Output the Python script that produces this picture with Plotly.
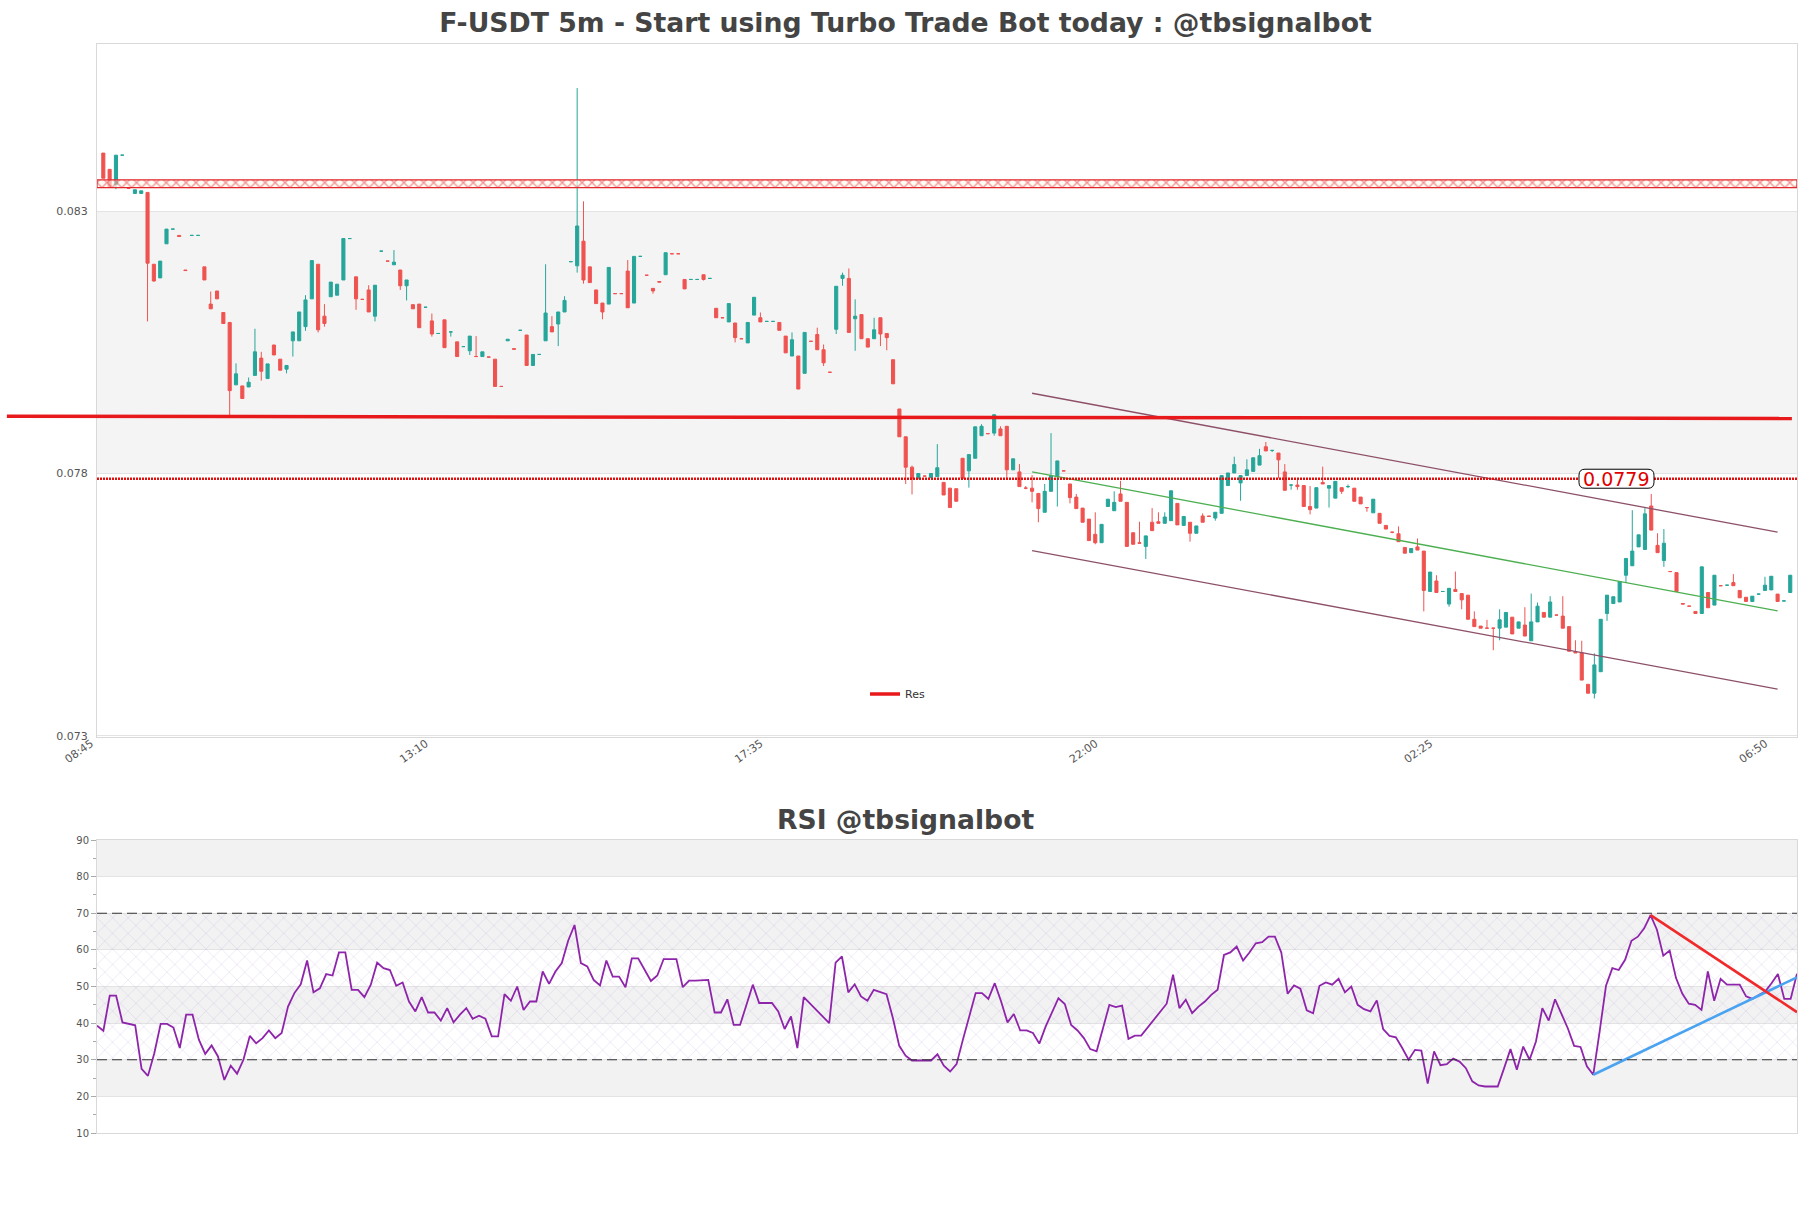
import plotly.graph_objects as go

# ---------------- data ----------------
open_ = [
    0.08411, 0.08380, 0.08351, 0.08407, 0.08344, 0.08334, 0.08334, 0.08336, 0.08199, 0.08173,
    0.08238, 0.08266, 0.08254, 0.08188, 0.08254, 0.08254, 0.08194, 0.08123, 0.08148, 0.08107,
    0.08088, 0.07969, 0.07967, 0.07965, 0.07987, 0.08020, 0.07981, 0.08045, 0.08018, 0.07999,
    0.08053, 0.08053, 0.08080, 0.08133, 0.08199, 0.08100, 0.08137, 0.08140, 0.08169, 0.08248,
    0.08175, 0.08132, 0.08150, 0.08100, 0.08224, 0.08205, 0.08198, 0.08188, 0.08158, 0.08122,
    0.08123, 0.08117, 0.08091, 0.08067, 0.08093, 0.08070, 0.08051, 0.08042, 0.08034, 0.08023,
    0.08023, 0.08022, 0.08018, 0.07966, 0.08053, 0.08038, 0.08073, 0.08064, 0.08006, 0.08027,
    0.08053, 0.08080, 0.08085, 0.08108, 0.08204, 0.08196, 0.08243, 0.08194, 0.08150, 0.08125,
    0.08123, 0.08143, 0.08143, 0.08186, 0.08125, 0.08214, 0.08178, 0.08153, 0.08166, 0.08179,
    0.08219, 0.08219, 0.08170, 0.08170, 0.08170, 0.08179, 0.08172, 0.08115, 0.08097, 0.08089,
    0.08087, 0.08057, 0.08049, 0.08102, 0.08097, 0.08090, 0.08090, 0.08088, 0.08062, 0.08024,
    0.08024, 0.07991, 0.08052, 0.08065, 0.08036, 0.07993, 0.08075, 0.08172, 0.08172, 0.08095,
    0.08103, 0.08057, 0.08057, 0.08097, 0.08067, 0.08017, 0.07923, 0.07870, 0.07812, 0.07790,
    0.07795, 0.07792, 0.07794, 0.07783, 0.07772, 0.07771, 0.07829, 0.07805, 0.07829, 0.07872,
    0.07876, 0.07877, 0.07885, 0.07890, 0.07807, 0.07803, 0.07772, 0.07772, 0.07762, 0.07726,
    0.07766, 0.07794, 0.07805, 0.07780, 0.07755, 0.07734, 0.07713, 0.07684, 0.07668, 0.07737,
    0.07729, 0.07761, 0.07745, 0.07687, 0.07668, 0.07661, 0.07707, 0.07708, 0.07705, 0.07710,
    0.07743, 0.07701, 0.07707, 0.07686, 0.07719, 0.07719, 0.07715, 0.07724, 0.07777, 0.07801,
    0.07782, 0.07796, 0.07804, 0.07816, 0.07851, 0.07844, 0.07839, 0.07803, 0.07778, 0.07778,
    0.07777, 0.07737, 0.07734, 0.07783, 0.07772, 0.07753, 0.07773, 0.07775, 0.07772, 0.07755,
    0.07735, 0.07725, 0.07724, 0.07701, 0.07688, 0.07685, 0.07659, 0.07649, 0.07660, 0.07652,
    0.07575, 0.07595, 0.07575, 0.07551, 0.07579, 0.07571, 0.07568, 0.07522, 0.07509, 0.07505,
    0.07505, 0.07505, 0.07507, 0.07526, 0.07505, 0.07511, 0.07481, 0.07517, 0.07535, 0.07526,
    0.07530, 0.07528, 0.07508, 0.07460, 0.07458, 0.07398, 0.07381, 0.07422, 0.07533, 0.07552,
    0.07555, 0.07606, 0.07624, 0.07660, 0.07655, 0.07738, 0.07663, 0.07634, 0.07613, 0.07611,
    0.07552, 0.07547, 0.07537, 0.07533, 0.07573, 0.07549, 0.07586, 0.07587, 0.07592, 0.07577,
    0.07564, 0.07556, 0.07570, 0.07577, 0.07578, 0.07570, 0.07557, 0.07573,
]
high = [
    0.08411, 0.08380, 0.08407, 0.08407, 0.08344, 0.08341, 0.08339, 0.08336, 0.08199, 0.08205,
    0.08266, 0.08266, 0.08254, 0.08188, 0.08254, 0.08254, 0.08194, 0.08147, 0.08148, 0.08107,
    0.08088, 0.08010, 0.07967, 0.07983, 0.08076, 0.08032, 0.08009, 0.08045, 0.08018, 0.08006,
    0.08070, 0.08108, 0.08140, 0.08206, 0.08199, 0.08123, 0.08165, 0.08161, 0.08248, 0.08248,
    0.08175, 0.08132, 0.08159, 0.08159, 0.08224, 0.08205, 0.08226, 0.08188, 0.08169, 0.08122,
    0.08123, 0.08117, 0.08105, 0.08067, 0.08093, 0.08070, 0.08051, 0.08042, 0.08062, 0.08062,
    0.08032, 0.08022, 0.08018, 0.07966, 0.08056, 0.08038, 0.08073, 0.08064, 0.08027, 0.08027,
    0.08199, 0.08100, 0.08108, 0.08138, 0.08204, 0.08535, 0.08319, 0.08194, 0.08150, 0.08125,
    0.08193, 0.08143, 0.08143, 0.08207, 0.08214, 0.08214, 0.08178, 0.08153, 0.08166, 0.08221,
    0.08219, 0.08219, 0.08170, 0.08170, 0.08170, 0.08179, 0.08172, 0.08115, 0.08097, 0.08124,
    0.08087, 0.08057, 0.08088, 0.08136, 0.08107, 0.08090, 0.08090, 0.08088, 0.08062, 0.08069,
    0.08024, 0.08069, 0.08052, 0.08078, 0.08046, 0.07993, 0.08157, 0.08183, 0.08191, 0.08132,
    0.08103, 0.08057, 0.08097, 0.08097, 0.08067, 0.08017, 0.07923, 0.07870, 0.07815, 0.07800,
    0.07795, 0.07800, 0.07856, 0.07783, 0.07772, 0.07771, 0.07829, 0.07836, 0.07889, 0.07894,
    0.07876, 0.07912, 0.07890, 0.07890, 0.07828, 0.07818, 0.07776, 0.07797, 0.07762, 0.07780,
    0.07877, 0.07824, 0.07805, 0.07780, 0.07761, 0.07734, 0.07713, 0.07726, 0.07703, 0.07751,
    0.07766, 0.07786, 0.07745, 0.07687, 0.07708, 0.07681, 0.07734, 0.07726, 0.07726, 0.07767,
    0.07743, 0.07718, 0.07707, 0.07700, 0.07724, 0.07719, 0.07726, 0.07796, 0.07801, 0.07832,
    0.07796, 0.07827, 0.07830, 0.07847, 0.07860, 0.07844, 0.07839, 0.07818, 0.07778, 0.07788,
    0.07777, 0.07776, 0.07773, 0.07813, 0.07777, 0.07785, 0.07773, 0.07779, 0.07772, 0.07755,
    0.07735, 0.07751, 0.07724, 0.07701, 0.07688, 0.07699, 0.07659, 0.07657, 0.07676, 0.07652,
    0.07612, 0.07606, 0.07575, 0.07581, 0.07613, 0.07571, 0.07568, 0.07537, 0.07509, 0.07521,
    0.07505, 0.07541, 0.07535, 0.07526, 0.07517, 0.07545, 0.07571, 0.07554, 0.07535, 0.07566,
    0.07530, 0.07566, 0.07508, 0.07482, 0.07481, 0.07398, 0.07457, 0.07522, 0.07568, 0.07565,
    0.07594, 0.07638, 0.07730, 0.07683, 0.07734, 0.07761, 0.07686, 0.07694, 0.07613, 0.07611,
    0.07552, 0.07547, 0.07537, 0.07622, 0.07573, 0.07606, 0.07586, 0.07587, 0.07608, 0.07577,
    0.07564, 0.07566, 0.07570, 0.07603, 0.07604, 0.07570, 0.07557, 0.07606,
]
low = [
    0.08363, 0.08347, 0.08342, 0.08407, 0.08344, 0.08334, 0.08334, 0.08090, 0.08166, 0.08173,
    0.08238, 0.08266, 0.08252, 0.08187, 0.08254, 0.08254, 0.08169, 0.08114, 0.08133, 0.08086,
    0.07908, 0.07969, 0.07943, 0.07965, 0.07987, 0.07977, 0.07981, 0.08026, 0.07997, 0.07991,
    0.08023, 0.08053, 0.08072, 0.08133, 0.08069, 0.08080, 0.08137, 0.08140, 0.08169, 0.08248,
    0.08112, 0.08132, 0.08108, 0.08090, 0.08224, 0.08205, 0.08198, 0.08150, 0.08130, 0.08114,
    0.08078, 0.08117, 0.08061, 0.08067, 0.08040, 0.08061, 0.08023, 0.08042, 0.08026, 0.08023,
    0.08023, 0.08022, 0.07966, 0.07966, 0.08053, 0.08037, 0.08073, 0.08006, 0.08006, 0.08027,
    0.08053, 0.08070, 0.08043, 0.08108, 0.08204, 0.08183, 0.08162, 0.08164, 0.08124, 0.08094,
    0.08123, 0.08143, 0.08143, 0.08116, 0.08125, 0.08214, 0.08178, 0.08143, 0.08165, 0.08179,
    0.08219, 0.08219, 0.08152, 0.08170, 0.08170, 0.08168, 0.08172, 0.08097, 0.08097, 0.08089,
    0.08050, 0.08057, 0.08049, 0.08102, 0.08089, 0.08090, 0.08090, 0.08073, 0.08030, 0.08024,
    0.07961, 0.07991, 0.08052, 0.08036, 0.08005, 0.07993, 0.08066, 0.08158, 0.08069, 0.08034,
    0.08057, 0.08041, 0.08057, 0.08043, 0.08035, 0.07971, 0.07870, 0.07780, 0.07760, 0.07790,
    0.07795, 0.07792, 0.07794, 0.07759, 0.07735, 0.07747, 0.07791, 0.07773, 0.07829, 0.07872,
    0.07876, 0.07872, 0.07872, 0.07788, 0.07807, 0.07775, 0.07770, 0.07745, 0.07707, 0.07726,
    0.07766, 0.07737, 0.07805, 0.07743, 0.07733, 0.07707, 0.07672, 0.07665, 0.07668, 0.07737,
    0.07729, 0.07747, 0.07661, 0.07665, 0.07667, 0.07637, 0.07691, 0.07705, 0.07705, 0.07710,
    0.07702, 0.07701, 0.07670, 0.07686, 0.07707, 0.07718, 0.07710, 0.07724, 0.07777, 0.07801,
    0.07748, 0.07796, 0.07804, 0.07816, 0.07843, 0.07841, 0.07791, 0.07768, 0.07769, 0.07769,
    0.07737, 0.07722, 0.07734, 0.07780, 0.07735, 0.07753, 0.07761, 0.07772, 0.07747, 0.07742,
    0.07727, 0.07725, 0.07705, 0.07694, 0.07686, 0.07670, 0.07648, 0.07649, 0.07654, 0.07537,
    0.07575, 0.07573, 0.07575, 0.07546, 0.07575, 0.07541, 0.07522, 0.07508, 0.07505, 0.07505,
    0.07463, 0.07482, 0.07507, 0.07494, 0.07505, 0.07490, 0.07481, 0.07517, 0.07526, 0.07526,
    0.07530, 0.07505, 0.07461, 0.07458, 0.07406, 0.07381, 0.07371, 0.07422, 0.07519, 0.07552,
    0.07555, 0.07592, 0.07624, 0.07660, 0.07655, 0.07692, 0.07649, 0.07622, 0.07613, 0.07575,
    0.07551, 0.07547, 0.07533, 0.07533, 0.07544, 0.07549, 0.07586, 0.07587, 0.07586, 0.07563,
    0.07556, 0.07556, 0.07570, 0.07577, 0.07578, 0.07556, 0.07557, 0.07573,
]
close = [
    0.08363, 0.08347, 0.08407, 0.08407, 0.08344, 0.08341, 0.08339, 0.08201, 0.08167, 0.08205,
    0.08266, 0.08266, 0.08252, 0.08187, 0.08254, 0.08254, 0.08169, 0.08114, 0.08133, 0.08086,
    0.07958, 0.07990, 0.07943, 0.07974, 0.08032, 0.07995, 0.08009, 0.08026, 0.07997, 0.08006,
    0.08070, 0.08108, 0.08131, 0.08206, 0.08074, 0.08086, 0.08165, 0.08161, 0.08248, 0.08248,
    0.08133, 0.08132, 0.08108, 0.08159, 0.08224, 0.08205, 0.08203, 0.08158, 0.08169, 0.08114,
    0.08078, 0.08117, 0.08066, 0.08067, 0.08040, 0.08070, 0.08023, 0.08042, 0.08062, 0.08023,
    0.08032, 0.08022, 0.07966, 0.07966, 0.08056, 0.08037, 0.08073, 0.08006, 0.08027, 0.08027,
    0.08106, 0.08070, 0.08108, 0.08130, 0.08204, 0.08272, 0.08169, 0.08164, 0.08124, 0.08108,
    0.08193, 0.08143, 0.08143, 0.08116, 0.08214, 0.08214, 0.08178, 0.08148, 0.08165, 0.08221,
    0.08219, 0.08219, 0.08152, 0.08170, 0.08170, 0.08170, 0.08172, 0.08097, 0.08097, 0.08124,
    0.08059, 0.08057, 0.08088, 0.08136, 0.08089, 0.08090, 0.08090, 0.08073, 0.08030, 0.08055,
    0.07961, 0.08069, 0.08052, 0.08036, 0.08011, 0.07993, 0.08157, 0.08178, 0.08069, 0.08100,
    0.08057, 0.08041, 0.08074, 0.08066, 0.08059, 0.07971, 0.07870, 0.07812, 0.07790, 0.07800,
    0.07795, 0.07800, 0.07811, 0.07759, 0.07735, 0.07747, 0.07791, 0.07836, 0.07889, 0.07890,
    0.07876, 0.07912, 0.07872, 0.07807, 0.07828, 0.07775, 0.07772, 0.07766, 0.07733, 0.07766,
    0.07796, 0.07824, 0.07805, 0.07754, 0.07733, 0.07707, 0.07672, 0.07668, 0.07703, 0.07751,
    0.07745, 0.07747, 0.07661, 0.07665, 0.07667, 0.07681, 0.07691, 0.07705, 0.07717, 0.07767,
    0.07702, 0.07718, 0.07686, 0.07700, 0.07707, 0.07718, 0.07726, 0.07796, 0.07801, 0.07817,
    0.07796, 0.07807, 0.07830, 0.07834, 0.07843, 0.07844, 0.07826, 0.07768, 0.07778, 0.07775,
    0.07737, 0.07731, 0.07773, 0.07780, 0.07777, 0.07785, 0.07766, 0.07775, 0.07747, 0.07742,
    0.07735, 0.07751, 0.07705, 0.07694, 0.07688, 0.07670, 0.07648, 0.07657, 0.07654, 0.07577,
    0.07612, 0.07573, 0.07575, 0.07581, 0.07575, 0.07559, 0.07522, 0.07508, 0.07505, 0.07505,
    0.07505, 0.07521, 0.07535, 0.07494, 0.07517, 0.07490, 0.07517, 0.07547, 0.07526, 0.07555,
    0.07530, 0.07505, 0.07461, 0.07458, 0.07406, 0.07381, 0.07435, 0.07522, 0.07568, 0.07565,
    0.07594, 0.07638, 0.07652, 0.07683, 0.07723, 0.07692, 0.07649, 0.07667, 0.07613, 0.07575,
    0.07551, 0.07547, 0.07533, 0.07622, 0.07544, 0.07606, 0.07586, 0.07587, 0.07586, 0.07563,
    0.07556, 0.07566, 0.07570, 0.07587, 0.07604, 0.07556, 0.07557, 0.07606,
]
rsi = [
    39.3, 37.9, 47.5, 47.5, 40.2, 39.8, 39.4, 27.5, 25.6, 31.8,
    39.8, 39.8, 38.8, 33.2, 42.3, 42.3, 35.5, 31.6, 33.9, 30.9,
    24.5, 28.4, 26.2, 30.0, 36.5, 34.5, 35.9, 38.0, 35.9, 37.3,
    44.5, 48.2, 50.6, 57.1, 48.4, 49.5, 53.4, 53.0, 59.3, 59.3,
    49.1, 49.1, 47.1, 50.5, 56.5, 55.0, 54.5, 50.2, 51.1, 45.9,
    43.2, 47.1, 42.9, 42.9, 40.7, 44.1, 40.2, 42.3, 44.1, 41.2,
    42.0, 41.2, 36.4, 36.4, 47.9, 46.1, 50.0, 43.6, 45.9, 45.9,
    54.1, 50.7, 54.1, 56.4, 62.5, 66.8, 56.4, 55.5, 51.8, 50.3,
    57.1, 52.7, 52.7, 49.8, 57.7, 57.7, 54.4, 51.5, 53.0, 57.5,
    57.5, 57.5, 49.8, 51.6,
    51.6, 51.6, 51.8, 42.9, 42.9, 46.5, 39.5, 39.5, 45.0, 50.5,
    45.5, 45.5, 45.5, 43.2, 38.4, 41.8, 33.2, 47.1, 45.3, 43.5,
    41.8, 40.0, 56.5, 58.2, 48.4, 50.6, 47.3, 46.1, 49.1, 48.6,
    47.9, 41.4, 33.8, 31.1, 29.8, 29.8, 29.8, 29.8, 31.5, 28.4,
    26.8, 28.8, 35.5, 41.8, 48.2, 48.2, 46.6, 50.9, 45.9, 40.2,
    42.5, 38.0, 38.0, 37.3, 34.4, 39.1, 43.0, 46.8, 45.2, 39.5,
    38.0, 35.9, 32.9, 32.3, 38.6, 45.0, 44.4, 44.8, 35.7, 36.6,
    36.6, 38.8, 41.2, 43.4, 45.3, 53.2, 44.1, 46.4, 42.7, 44.5,
    45.9, 47.7, 49.1, 58.6, 59.3, 60.9, 57.1, 59.3, 61.8, 62.1,
    63.6, 63.6, 59.3, 48.0, 50.3, 49.4,
    43.5, 42.7, 50.2, 51.1, 50.5, 52.1, 48.4, 50.0, 45.0, 43.8,
    43.2, 46.2, 38.4, 36.5, 36.1, 33.2, 30.0, 32.7, 32.5, 23.5,
    32.3, 28.5, 28.8, 30.3, 29.5, 27.7, 24.1, 23.0, 22.7, 22.7,
    22.7, 27.7, 32.9, 27.3, 33.6, 30.0, 35.0, 44.1, 40.7, 46.5,
    42.7, 38.6, 33.8, 33.5, 28.2, 25.9, 37.7, 50.2, 55.0, 54.5,
    57.3, 62.5, 63.6, 65.9, 69.5, 65.5, 58.4, 59.8, 52.3, 48.0,
    45.3, 45.0, 43.6, 54.1, 46.1, 52.1, 50.5, 50.5, 50.5, 47.3,
    46.6, 47.7, 48.6, 50.9, 53.4, 46.6, 46.6, 53.5,
]
candle_x = list(range(1, len(close) + 1))
rsi_x = list(range(1, len(rsi) + 1))

tick_positions = [0, 53, 106, 159, 212, 265]
tick_labels = ["08:45", "13:10", "17:35", "22:00", "02:25", "06:50"]
price_ticks = [0.073, 0.078, 0.083]
price_tick_labels = ["0.073", "0.078", "0.083"]

# levels
res_level = [0.07909, 0.07905]         # "Res" line (left end, right end)
level_0779 = 0.0779                    # dotted line + label
zone_low, zone_high = 0.08345, 0.08360  # hatched red zone
band_low, band_high = 0.078, 0.083      # alternate grey band

# regression channel
channel_x = [148, 266]
channel_upper = [0.07953, 0.07688]
channel_mid = [0.07803, 0.07538]
channel_lower = [0.07653, 0.07389]

# RSI trend lines
rsi_up_x, rsi_up_y = [236, 268], [25.9, 52.5]
rsi_dn_x, rsi_dn_y = [245, 268], [69.5, 43.0]

FONT = "DejaVu Sans"
UP, DOWN = "#26a69a", "#ef5350"
X_MAX = 269.07
Y_RANGE = [0.072975, 0.08619]

fig = go.Figure()

# RSI hatched 30-70 area
fig.add_trace(go.Scatter(
    x=[rsi_x[0], rsi_x[-1], rsi_x[-1], rsi_x[0]], y=[30, 30, 70, 70],
    xaxis="x2", yaxis="y2", mode="none", fill="toself",
    fillcolor="rgba(0,0,0,0)",
    fillpattern=dict(shape="x", fgcolor="rgba(160,135,200,0.6)", bgcolor="rgba(0,0,0,0)",
                     size=11, solidity=0.1),
    showlegend=False, hoverinfo="skip"))

# red hatched zone
fig.add_trace(go.Scatter(
    x=[0, X_MAX, X_MAX, 0, 0], y=[zone_low, zone_low, zone_high, zone_high, zone_low],
    mode="lines", line=dict(color="#e3262b", width=1.2), fill="toself",
    fillcolor="rgba(0,0,0,0)",
    fillpattern=dict(shape="x", fgcolor="#e3262b", bgcolor="rgba(255,250,240,0.6)",
                     size=7, solidity=0.35),
    showlegend=False, hoverinfo="skip"))

fig.add_trace(go.Candlestick(
    x=candle_x, open=open_, high=high, low=low, close=close,
    increasing=dict(line=dict(color=UP, width=1), fillcolor=UP),
    decreasing=dict(line=dict(color=DOWN, width=1), fillcolor=DOWN),
    whiskerwidth=0, showlegend=False, name="F-USDT"))

for yv, col in ((channel_upper, "#8d5068"), (channel_mid, "#4caf50"), (channel_lower, "#8d5068")):
    fig.add_trace(go.Scatter(x=channel_x, y=yv, mode="lines",
                             line=dict(color=col, width=1.3), showlegend=False, hoverinfo="skip"))

fig.add_trace(go.Scatter(x=rsi_x, y=rsi, xaxis="x2", yaxis="y2", mode="lines",
                         line=dict(color="#8e24aa", width=1.8), showlegend=False, name="RSI"))
fig.add_trace(go.Scatter(x=rsi_up_x, y=rsi_up_y, xaxis="x2", yaxis="y2", mode="lines",
                         line=dict(color="#4aa3f0", width=2.6), showlegend=False))
fig.add_trace(go.Scatter(x=rsi_dn_x, y=rsi_dn_y, xaxis="x2", yaxis="y2", mode="lines",
                         line=dict(color="#f02a2a", width=2.6), showlegend=False))

shapes = []
shapes.append(dict(type="rect", xref="x domain", yref="y", x0=0, x1=1, y0=band_low, y1=band_high,
                   fillcolor="#f4f4f4", line=dict(width=0), layer="below"))
for lo in (20, 40, 60, 80):
    shapes.append(dict(type="rect", xref="x2 domain", yref="y2", x0=0, x1=1, y0=lo, y1=lo + 10,
                       fillcolor="#f2f2f3", line=dict(width=0), layer="below"))
for lv in (30, 70):
    shapes.append(dict(type="line", xref="x2 domain", yref="y2", x0=0, x1=1, y0=lv, y1=lv,
                       line=dict(color="#333333", width=1.2, dash="10px,5px")))
shapes.append(dict(type="line", xref="x domain", yref="y", x0=0, x1=1, y0=level_0779, y1=level_0779,
                   line=dict(color="#e01010", width=2.4, dash="2px,1px")))
shapes.append(dict(type="line", xref="paper", yref="y", x0=-0.053, x1=0.997,
                   y0=res_level[0], y1=res_level[1],
                   line=dict(color="#e8191b", width=3.5), showlegend=True, name="Res"))
# rounded label box for 0.0779
lbl_x = 240.5
r, w, h = 6, 37.5, 9.5
path = (f"M {-w + r},{-h} L {w - r},{-h} Q {w},{-h} {w},{-h + r} L {w},{h - r} Q {w},{h} {w - r},{h} "
        f"L {-w + r},{h} Q {-w},{h} {-w},{h - r} L {-w},{-h + r} Q {-w},{-h} {-w + r},{-h} Z")
shapes.append(dict(type="path", xref="x", yref="y", xsizemode="pixel", ysizemode="pixel",
                   xanchor=lbl_x, yanchor=level_0779, path=path,
                   fillcolor="white", line=dict(color="black", width=1)))

annotations = [
    dict(x=lbl_x, y=level_0779, xref="x", yref="y", text="0.0779", showarrow=False,
         font=dict(family=FONT, size=19, color="#e00000")),
    dict(x=(905.5 - 97) / 1700, y=(1133 - 820) / 1089, xref="paper", yref="paper",
         text="RSI @tbsignalbot", showarrow=False, yanchor="middle",
         font=dict(family=FONT, size=26.6, color="#444444", weight="bold")),
]

axis_common = dict(showline=True, mirror=True, linecolor="#d9d9d9", linewidth=1, zeroline=False)

fig.update_layout(
    width=1811, height=1208,
    margin=dict(l=97, r=14, t=44, b=75),
    paper_bgcolor="white", plot_bgcolor="white",
    font=dict(family=FONT, color="#555555"),
    title=dict(text="F-USDT 5m - Start using Turbo Trade Bot today : @tbsignalbot",
               x=0.5, xref="container", xanchor="center",
               y=1 - 23 / 1208, yref="container", yanchor="middle",
               font=dict(family=FONT, size=26.7, color="#444444", weight="bold")),
    xaxis=dict(domain=[0, 1], range=[0, X_MAX], anchor="y",
               tickmode="array", tickvals=tick_positions, ticktext=tick_labels,
               tickangle=-35, tickfont=dict(size=11, color="#555555"),
               ticklabelshift=-6, ticklabelstandoff=-5,
               showgrid=False, rangeslider=dict(visible=False), **axis_common),
    yaxis=dict(domain=[396 / 1089, 1], range=Y_RANGE, anchor="x",
               tickmode="array", tickvals=price_ticks, ticktext=price_tick_labels,
               tickfont=dict(size=11, color="#555555"),
               ticks="outside", ticklen=6, tickcolor="rgba(0,0,0,0)",
               showgrid=True, gridcolor="#e3e3e3", **axis_common),
    xaxis2=dict(domain=[0, 1], range=[rsi_x[0], rsi_x[-1]], anchor="y2",
                showticklabels=False, showgrid=False, **axis_common),
    yaxis2=dict(domain=[0, 293 / 1089], range=[10, 90], anchor="x2", dtick=10,
                tickfont=dict(size=10, color="#555555"),
                ticks="outside", ticklen=5, tickcolor="#aaaaaa",
                minor=dict(ticks="outside", dtick=5, ticklen=3, tickcolor="#aaaaaa", showgrid=False),
                showgrid=True, gridcolor="#e3e3e3", **axis_common),
    shapes=shapes,
    annotations=annotations,
    showlegend=True,
    legend=dict(x=(905 - 40 - 97) / 1700, y=(1133 - 694) / 1089, xanchor="left", yanchor="middle",
                bgcolor="rgba(0,0,0,0)", font=dict(family=FONT, size=11, color="#333333")),
)

fig.write_html("out.html")
